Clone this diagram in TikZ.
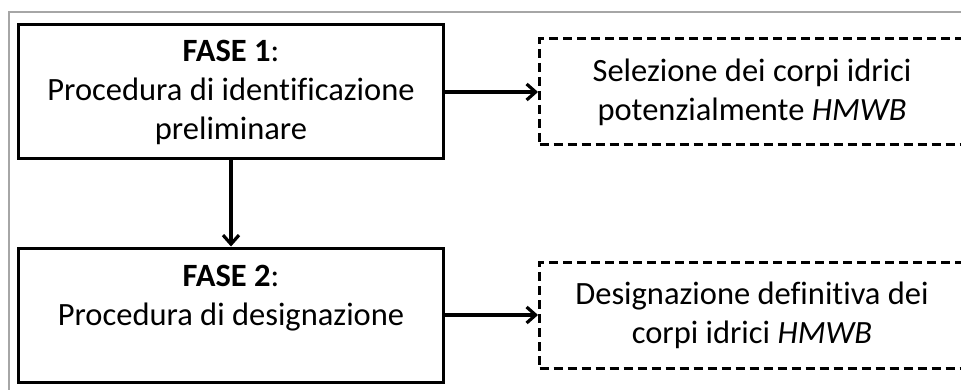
\documentclass[tikz,border=0pt]{standalone}
\usepackage{fontspec}
\setmainfont{Carlito}[Ligatures=CommonOff]
\usetikzlibrary{positioning}
\usetikzlibrary{arrows.meta}

\begin{document}
\begin{tikzpicture}[x=1pt, y=-1pt,
  freccia/.style={draw, line width=3.2pt, -{Straight Barb[length=9pt,width=16pt]}},
  testo/.style={align=center, font=\fontsize{32.5}{39}\selectfont, inner sep=0pt},
  fase/.style={testo, draw, line width=3pt, minimum width=425pt, minimum height=134pt},
  esito/.style={testo, draw, line width=3pt, dash pattern=on 9pt off 5pt, minimum width=425pt, minimum height=106pt}]
\useasboundingbox (0,0) rectangle (961,390);
\clip (0,0) rectangle (961,390);
% cornice grigia
\draw[gray!70, line width=1.2pt] (9,395) -- (9,12) -- (970,12);
% fasi
\node[fase] (fase1) at (231,92) {\textbf{FASE 1}:\\Procedura di identificazione\\preliminare};
\node[fase] (fase2) at (231,315) {\textbf{FASE 2}:\\Procedura di designazione\\\mbox{}};
% esiti
\node[esito, right=93pt of fase1] (sel) {Selezione dei corpi idrici\\potenzialmente \textit{HMWB}};
\node[esito, right=93pt of fase2] (des) {Designazione definitiva dei\\corpi idrici \textit{HMWB}};
% frecce
\draw[freccia] (fase1) -- (fase2);
\draw[freccia] (fase1) -- (sel);
\draw[freccia] (fase2) -- (des);
\end{tikzpicture}
\end{document}
